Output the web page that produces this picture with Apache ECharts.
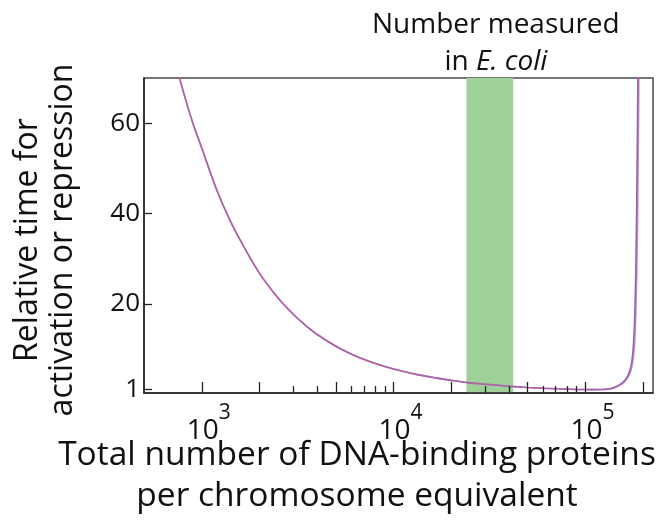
<!DOCTYPE html>
<html>
<head>
<meta charset="utf-8">
<script src="https://cdn.jsdelivr.net/npm/echarts@6/dist/echarts.min.js"></script>
<style>html,body{margin:0;padding:0;background:#fff}#c{width:663px;height:529px}</style>
</head>
<body>
<div id="c"></div>
<script>
// ---- data ----
// x: total number of DNA-binding proteins per chromosome equivalent
// y: relative time for activation or repression
const blueN = [740, 800, 900, 1000, 1200, 1400, 1600, 2000, 2500, 3000, 3500, 4000, 5000, 6000, 7500, 9000, 11000, 13500, 16500, 20000, 25000, 30000, 35000, 40000, 45000, 50000, 60000, 70000, 80000, 90000, 100000, 110000, 120000, 130000, 138000, 145000, 150000, 155000, 160000, 165000, 169000, 172500, 175500, 178000, 180000, 182000, 183800, 185300, 186500, 187500, 188200];
const blueT = [72.5, 67.1, 59.9, 54.5, 45.1, 38.6, 33.8, 26.75, 21.3, 17.7, 15.1, 13.2, 10.6, 8.9, 7.2, 6.1, 5.1, 4.26, 3.6, 3.05, 2.5, 2.2, 1.95, 1.75, 1.6, 1.48, 1.3, 1.18, 1.1, 1.04, 1.01, 1.0, 1.03, 1.1, 1.3, 1.7, 2.05, 2.45, 3.0, 3.8, 4.8, 6.1, 8.0, 11, 15, 22, 32, 44, 56, 68, 78];
const redN = [740, 800, 900, 1000, 1200, 1400, 1600, 2000, 2500, 3000, 3500, 4000, 5000, 6000, 7500, 9000, 11000, 13500, 16500, 20000, 25000, 30000, 35000, 40000, 45000, 50000, 60000, 70000, 80000, 90000, 100000, 110000, 120000, 130000, 139000, 146500, 151500, 156700, 161800, 166900, 171000, 174600, 177600, 180100, 182100, 184100, 186000, 187500, 188700, 189700, 190400];
const redT = [72.5, 67.1, 59.9, 54.5, 45.1, 38.6, 33.8, 26.75, 21.3, 17.7, 15.1, 13.2, 10.6, 8.9, 7.2, 6.1, 5.1, 4.26, 3.6, 3.05, 2.5, 2.2, 1.95, 1.75, 1.6, 1.48, 1.3, 1.18, 1.1, 1.04, 1.01, 1.0, 1.03, 1.08, 1.27, 1.65, 2.0, 2.4, 2.95, 3.75, 4.75, 6.05, 7.95, 10.9, 14.9, 21.8, 31.8, 43.8, 55.8, 67.8, 78];
// measured range in E. coli (shaded band)
const bandRange = [24000, 42000];
// axis ticks
const xMajorTicks = [1000, 2000, 5000, 10000, 20000, 50000, 100000, 200000];
const xMinorTicks = [3000, 4000, 6000, 7000, 8000, 9000, 30000, 40000, 60000, 70000, 80000, 90000];
const xLabelValues = [1000, 10000, 100000];
const yTickValues = [1, 20, 40, 60];
const xRange = [500, 225000];
const yRange = [0.25, 70];

const FONT = '"Open Sans", "Noto Sans", sans-serif';
const zip = (a, b) => a.map((v, i) => [v, b[i]]);

const chart = echarts.init(document.getElementById('c'), null, {renderer: 'canvas'});

const baseX = {
  type: 'log', logBase: 10, min: xRange[0], max: xRange[1],
  gridIndex: 0, position: 'bottom', z: 10,
  splitLine: {show: false}, minorTick: {show: false}
};

chart.setOption({
  animation: false,
  backgroundColor: '#fff',
  grid: {left: 144, top: 78, width: 509, height: 315, show: true, borderColor: '#4a4a4a', borderWidth: 1.5, backgroundColor: 'transparent'},
  xAxis: [
    Object.assign({}, baseX, {
      axisLine: {show: true, lineStyle: {color: '#222', width: 1.5}},
      axisTick: {show: true, inside: true, length: 11, customValues: xMajorTicks, lineStyle: {color: '#222', width: 1.3}},
      axisLabel: {
        show: true, customValues: xLabelValues, margin: 10, color: '#111',
        padding: [0, 0, 0, 14],
        formatter: v => '{b|10}{s|' + Math.round(Math.log10(v)) + '}',
        rich: {
          b: {fontFamily: FONT, fontSize: 28, color: '#111', verticalAlign: 'bottom', lineHeight: 42},
          s: {fontFamily: FONT, fontSize: 21, color: '#111', verticalAlign: 'top', lineHeight: 42}
        }
      }
    }),
    Object.assign({}, baseX, {
      axisLine: {show: false},
      axisTick: {show: true, inside: true, length: 7, customValues: xMinorTicks, lineStyle: {color: '#222', width: 1.3}},
      axisLabel: {show: false}
    })
  ],
  yAxis: {
    type: 'value', min: yRange[0], max: yRange[1], z: 10,
    splitLine: {show: false},
    axisLine: {show: true, lineStyle: {color: '#222', width: 1.5}},
    axisTick: {show: true, inside: true, length: 8, customValues: yTickValues, lineStyle: {color: '#222', width: 1.3}},
    axisLabel: {customValues: yTickValues, fontFamily: FONT, fontSize: 26, color: '#111', margin: 4}
  },
  graphic: [
    {
      type: 'text', x: 45, y: 240, rotation: Math.PI / 2,
      style: {text: 'Relative time for\nactivation or repression', font: '32px ' + FONT, fill: '#111', align: 'center', verticalAlign: 'middle', lineHeight: 35}
    },
    {
      type: 'text', x: 357, y: 476,
      style: {text: 'Total number of DNA-binding proteins\nper chromosome equivalent', font: '33.5px ' + FONT, fill: '#111', align: 'center', verticalAlign: 'middle', lineHeight: 41}
    }
  ],
  series: [
    {
      type: 'line', name: 'band', z: 1, silent: true, showSymbol: false,
      data: zip(blueN, blueT), lineStyle: {opacity: 0},
      markArea: {
        silent: true,
        itemStyle: {color: '#9dd197', opacity: 1},
        label: {
          show: true, position: 'top', distance: 8, offset: [6, 11],
          formatter: '{a|Number measured}\n{a|in }{i|E. coli}',
          rich: {
            a: {fontFamily: FONT, fontSize: 28, color: '#111', lineHeight: 37},
            i: {fontFamily: FONT, fontSize: 28, fontStyle: 'italic', color: '#111', lineHeight: 37}
          }
        },
        data: [[{xAxis: bandRange[0]}, {xAxis: bandRange[1]}]]
      }
    },
    {
      type: 'line', name: 'blue', z: 3, showSymbol: false, smooth: 0.35, clip: true,
      data: zip(blueN, blueT),
      lineStyle: {color: '#6c70c8', width: 1.6}
    },
    {
      type: 'line', name: 'red', z: 4, showSymbol: false, smooth: 0.35, clip: true,
      data: zip(redN, redT),
      lineStyle: {color: '#cc5c98', width: 1.6, opacity: 0.75}
    }
  ]
});
</script>
</body>
</html>
